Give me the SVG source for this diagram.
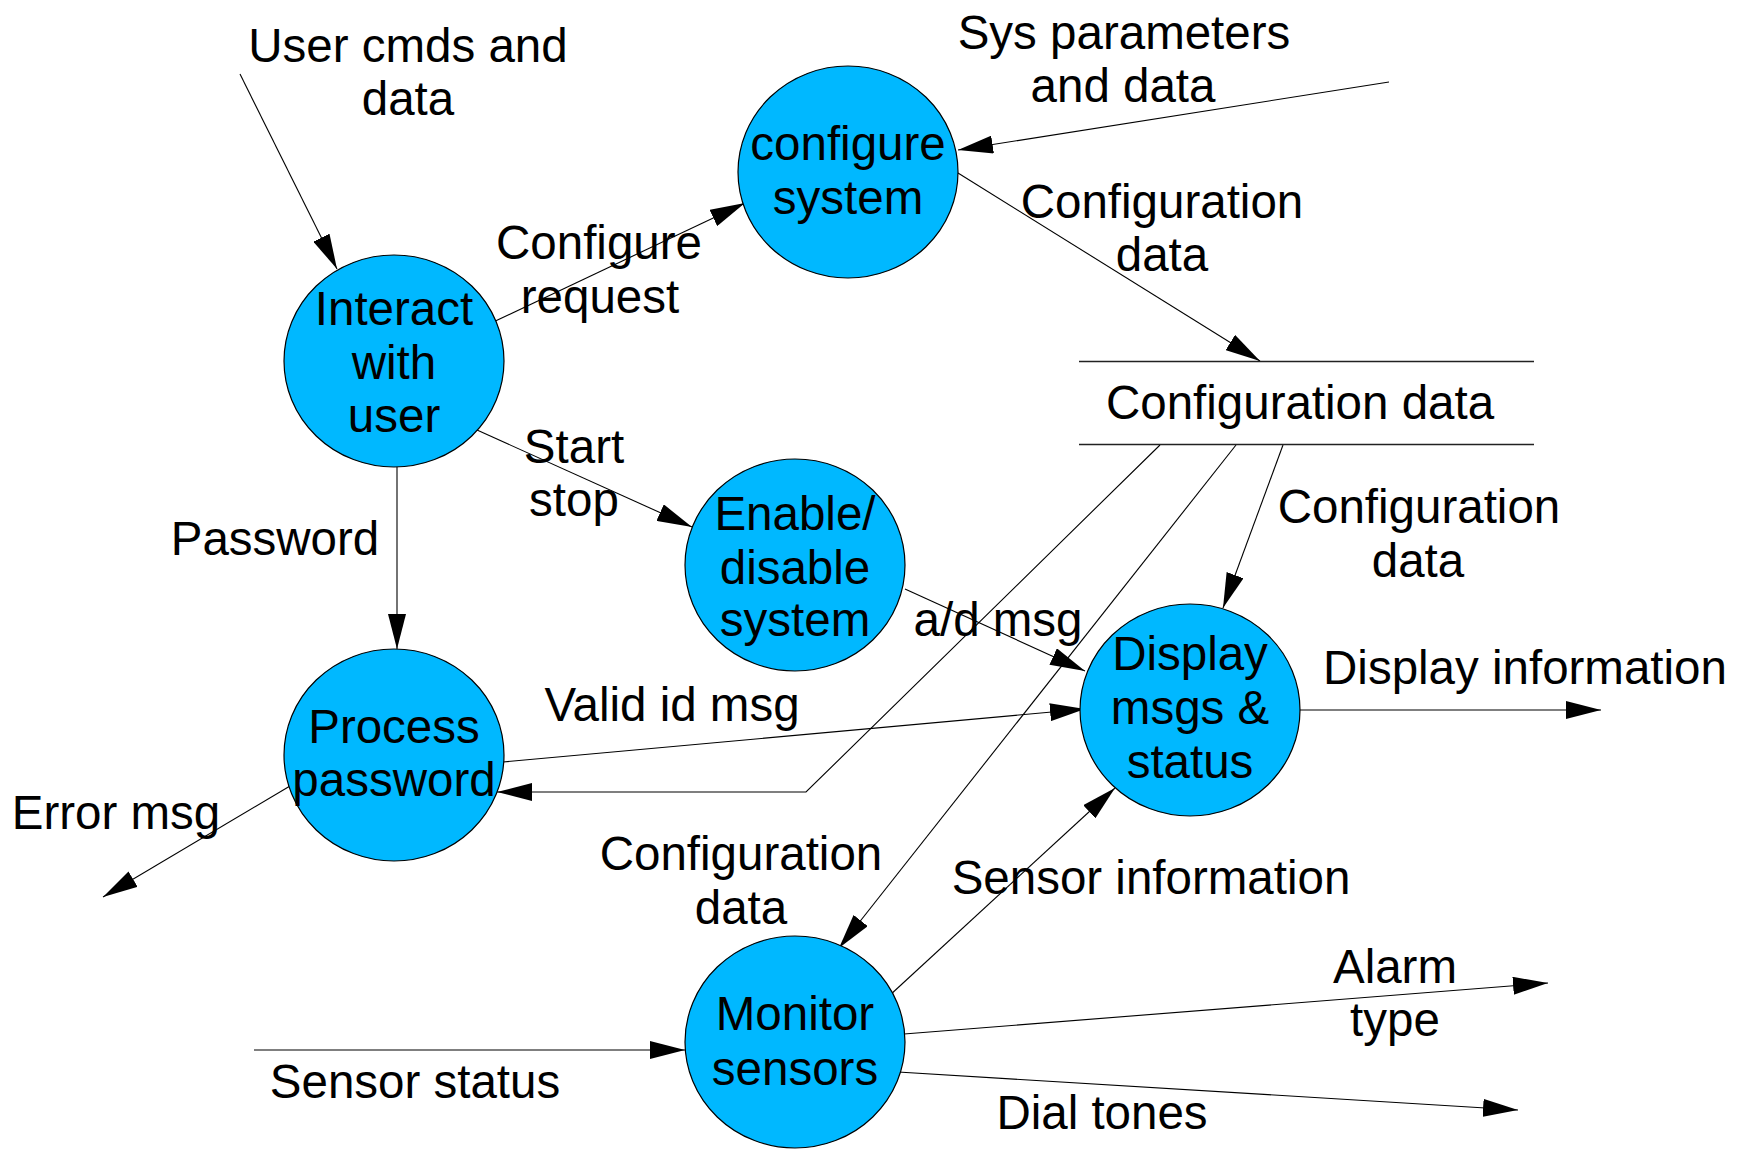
<svg xmlns="http://www.w3.org/2000/svg" width="1737" height="1152" viewBox="0 0 1737 1152">
  <defs>
    <style>
      .proc { fill: #00b8ff; stroke: #000; stroke-width: 1.2; }
      .flow { fill: none; stroke: #000; stroke-width: 1.1; marker-end: url(#head); }
      .store { stroke: #222; stroke-width: 1.4; }
      text { font-family: "Liberation Sans", Arial, sans-serif; font-size: 47.5px; fill: #000; text-anchor: middle; }
    </style>
    <marker id="head" viewBox="0 0 35 18" refX="35" refY="9" markerWidth="35" markerHeight="18" markerUnits="userSpaceOnUse" orient="auto">
      <path d="M0,0 L35,9 L0,18 z" fill="#000"/>
    </marker>
  </defs>
  <rect width="1737" height="1152" fill="#fff"/>

  <!-- data flows -->
  <g id="connectors">
    <line class="flow" x1="240" y1="74" x2="337" y2="269"/>
    <line class="flow" x1="489" y1="324" x2="745" y2="203"/>
    <line class="flow" x1="477" y1="430" x2="692" y2="527"/>
    <line class="flow" x1="397" y1="467" x2="397" y2="649"/>
    <line class="flow" x1="1389" y1="82" x2="958" y2="150"/>
    <line class="flow" x1="958" y1="173" x2="1260" y2="361"/>
    <line class="flow" x1="1283" y1="445" x2="1223" y2="608"/>
    <line class="flow" x1="1236" y1="445" x2="839" y2="948"/>
    <polyline class="flow" points="1160,445 806,792 497,792"/>
    <line class="flow" x1="503" y1="762" x2="1085" y2="709"/>
    <line class="flow" x1="905" y1="589" x2="1085" y2="671"/>
    <line class="flow" x1="290" y1="786" x2="103" y2="897"/>
    <line class="flow" x1="254" y1="1050" x2="685" y2="1050"/>
    <line class="flow" x1="889" y1="996" x2="1115" y2="788"/>
    <line class="flow" x1="1299" y1="710" x2="1601" y2="710"/>
    <line class="flow" x1="904" y1="1034" x2="1548" y2="983"/>
    <line class="flow" x1="898" y1="1072" x2="1518" y2="1110"/>
  </g>

  <!-- flow labels -->
  <g id="labels">
    <text x="408" y="62">User cmds and</text>
    <text x="408" y="115">data</text>
    <text x="599" y="259">Configure</text>
    <text x="600" y="313">request</text>
    <text x="574" y="463">Start</text>
    <text x="574" y="516">stop</text>
    <text x="275" y="555">Password</text>
    <text x="1124" y="49">Sys parameters</text>
    <text x="1123" y="102">and data</text>
    <text x="1162" y="218">Configuration</text>
    <text x="1162" y="271">data</text>
    <text x="1419" y="523">Configuration</text>
    <text x="1418" y="577">data</text>
    <text x="998" y="636">a/d msg</text>
    <text x="1525" y="684">Display information</text>
    <text x="672" y="721">Valid id msg</text>
    <text x="116" y="829">Error msg</text>
    <text x="741" y="870">Configuration</text>
    <text x="741" y="924">data</text>
    <text x="1151" y="894">Sensor information</text>
    <text x="1395" y="983">Alarm</text>
    <text x="1395" y="1036">type</text>
    <text x="415" y="1098">Sensor status</text>
    <text x="1102" y="1129">Dial tones</text>
  </g>

  <!-- data store -->
  <g id="store-config">
    <line class="store" x1="1079" y1="361.5" x2="1534" y2="361.5"/>
    <line class="store" x1="1079" y1="444.5" x2="1534" y2="444.5"/>
    <text x="1300" y="419">Configuration data</text>
  </g>

  <!-- processes -->
  <g id="proc-interact">
    <ellipse class="proc" cx="394" cy="361" rx="110" ry="106"/>
    <text x="394" y="325">Interact</text>
    <text x="394" y="379">with</text>
    <text x="394" y="432">user</text>
  </g>
  <g id="proc-configure">
    <ellipse class="proc" cx="848" cy="172" rx="110" ry="106"/>
    <text x="848" y="160">configure</text>
    <text x="848" y="214">system</text>
  </g>
  <g id="proc-enable">
    <ellipse class="proc" cx="795" cy="565" rx="110" ry="106"/>
    <text x="795" y="530">Enable/</text>
    <text x="795" y="584">disable</text>
    <text x="795" y="636">system</text>
  </g>
  <g id="proc-password">
    <ellipse class="proc" cx="394" cy="755" rx="110" ry="106"/>
    <text x="394" y="743">Process</text>
    <text x="394" y="796">password</text>
  </g>
  <g id="proc-display">
    <ellipse class="proc" cx="1190" cy="710" rx="110" ry="106"/>
    <text x="1190" y="670">Display</text>
    <text x="1190" y="724">msgs &amp;</text>
    <text x="1190" y="778">status</text>
  </g>
  <g id="proc-monitor">
    <ellipse class="proc" cx="795" cy="1042" rx="110" ry="106"/>
    <text x="795" y="1030">Monitor</text>
    <text x="795" y="1085">sensors</text>
  </g>
</svg>
